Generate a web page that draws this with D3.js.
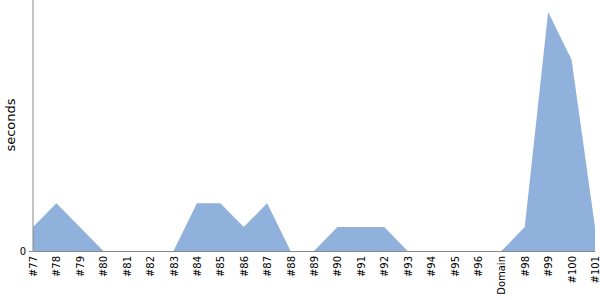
<!DOCTYPE html>
<html>
<head>
<meta charset="utf-8">
<script src="https://cdn.jsdelivr.net/npm/d3@7"></script>
<style>
  body { margin: 0; background: #fff; }
  svg { font-family: "DejaVu Sans", sans-serif; }
  .axis path, .axis line { stroke: #888; }
  .axis text { font-size: 10px; fill: #000; }
</style>
</head>
<body>
<svg width="600" height="300"></svg>
<script>
const categories = ["#77", "#78", "#79", "#80", "#81", "#82", "#83", "#84", "#85", "#86",
  "#87", "#88", "#89", "#90", "#91", "#92", "#93", "#94", "#95", "#96",
  "Domain", "#98", "#99", "#100", "#101"];
const seconds = [1, 2, 1, 0, 0, 0, 0, 2, 2, 1,
  2, 0, 0, 1, 1, 1, 0, 0, 0, 0,
  0, 1, 10, 8, 1];
const yTicks = [0];
const yLabel = "seconds";

const svg = d3.select("svg");
const width = +svg.attr("width");
const height = +svg.attr("height");

const margin = { top: 0, right: 5, bottom: 49, left: 33 };
const innerWidth = width - margin.left - margin.right;
const innerHeight = height - margin.top - margin.bottom;

const data = categories.map((c, i) => ({ cat: c, value: seconds[i] }));

const xScale = d3.scalePoint()
  .domain(categories)
  .range([0, innerWidth]);

const yScale = d3.scaleLinear()
  .domain([0, d3.max(seconds) * 1.05])
  .range([innerHeight, 0]);

const g = svg.append("g")
  .attr("transform", `translate(${margin.left},${margin.top})`);

const area = d3.area()
  .x(d => xScale(d.cat))
  .y0(innerHeight)
  .y1(d => yScale(d.value));

g.append("path")
  .attr("d", area(data))
  .attr("fill", "#8fb1db");

const xAxisG = g.append("g")
  .attr("class", "axis")
  .attr("transform", `translate(0,${innerHeight})`)
  .call(d3.axisBottom(xScale).tickSize(0).tickSizeOuter(0))
  .attr("font-family", "DejaVu Sans");

xAxisG.selectAll("text")
  .attr("transform", "rotate(-90)")
  .attr("x", -5)
  .attr("y", 0)
  .attr("dy", "0.35em")
  .style("text-anchor", "end");

const yAxisG = g.append("g")
  .attr("class", "axis")
  .call(d3.axisLeft(yScale).tickValues(yTicks).tickSize(4).tickSizeOuter(0))
  .attr("font-family", "DejaVu Sans");

yAxisG.select(".domain").attr("d", `M0,0V${innerHeight}`);

svg.append("text")
  .attr("transform", "rotate(-90)")
  .attr("x", -125)
  .attr("y", 15)
  .attr("text-anchor", "middle")
  .style("font-size", "13px")
  .text(yLabel);
</script>
</body>
</html>
